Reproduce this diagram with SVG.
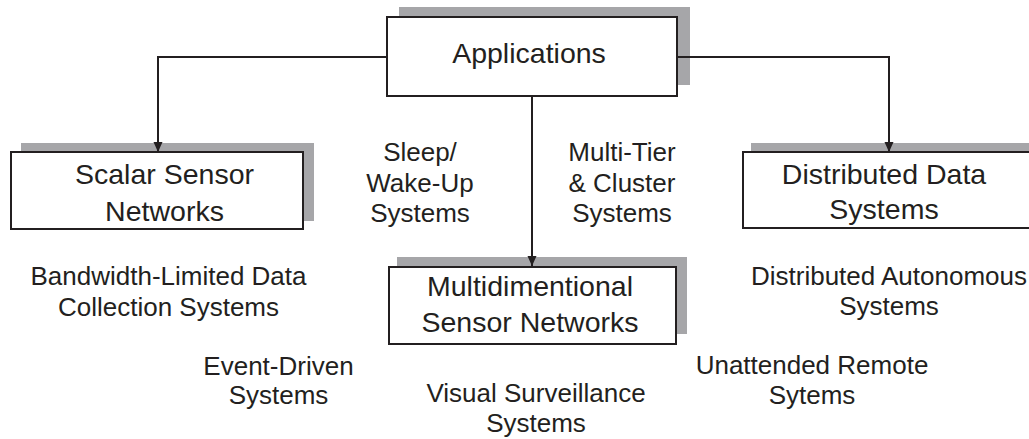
<svg xmlns="http://www.w3.org/2000/svg" width="1029" height="439" viewBox="0 0 1029 439">
  <style>
    .shadow { fill: #a6a6a9; }
    .box { fill: #ffffff; stroke: #231f20; stroke-width: 2; }
    .title { font-family: "Liberation Sans", Arial, sans-serif; font-size: 28.5px; fill: #231f20; text-anchor: middle; }
    .label { font-family: "Liberation Sans", Arial, sans-serif; font-size: 26px; fill: #231f20; text-anchor: middle; }
    .wire { fill: none; stroke: #231f20; stroke-width: 2; }
  </style>
  <defs>
    <marker id="arrow" viewBox="0 0 10 10" refX="10" refY="5" markerWidth="10" markerHeight="10" markerUnits="userSpaceOnUse" orient="auto">
      <path d="M0,0.5 L10,5 L0,9.5 Z" fill="#231f20"/>
    </marker>
  </defs>

  <rect width="1029" height="439" fill="#ffffff"/>

  <!-- root node -->
  <g id="applications">
    <rect class="shadow" x="399" y="7" width="291" height="78"/>
    <rect class="box" x="387" y="17" width="290" height="79"/>
    <text class="title" x="529" y="63">Applications</text>
  </g>

  <g id="scalar-sensor-networks">
    <rect class="shadow" x="21" y="143" width="293" height="78"/>
    <rect class="box" x="11" y="152" width="292" height="77"/>
    <text class="title" x="164.5" y="184">Scalar Sensor</text>
    <text class="title" x="164.5" y="220.5">Networks</text>
  </g>

  <g id="distributed-data-systems">
    <rect class="shadow" x="751" y="143" width="300" height="78"/>
    <rect class="box" x="743" y="152" width="300" height="76"/>
    <text class="title" x="884" y="183.5">Distributed Data</text>
    <text class="title" x="884" y="219">Systems</text>
  </g>

  <g id="multidimentional-sensor-networks">
    <rect class="shadow" x="397" y="257" width="290" height="77"/>
    <rect class="box" x="389" y="267" width="287" height="77"/>
    <text class="title" x="530" y="296">Multidimentional</text>
    <text class="title" x="530" y="331.5">Sensor Networks</text>
  </g>

  <!-- free-standing labels -->
  <g id="sleep-wakeup">
    <text class="label" x="420" y="161">Sleep/</text>
    <text class="label" x="420" y="191.5">Wake-Up</text>
    <text class="label" x="420" y="222">Systems</text>
  </g>
  <g id="multi-tier">
    <text class="label" x="622" y="161">Multi-Tier</text>
    <text class="label" x="622" y="191.5">&amp; Cluster</text>
    <text class="label" x="622" y="222">Systems</text>
  </g>
  <g id="bandwidth-limited">
    <text class="label" x="168.5" y="285">Bandwidth-Limited Data</text>
    <text class="label" x="168.5" y="316">Collection Systems</text>
  </g>
  <g id="event-driven">
    <text class="label" x="278.5" y="374.5">Event-Driven</text>
    <text class="label" x="278.5" y="404">Systems</text>
  </g>
  <g id="visual-surveillance">
    <text class="label" x="536" y="401.5">Visual Surveillance</text>
    <text class="label" x="536" y="431.5">Systems</text>
  </g>
  <g id="distributed-autonomous">
    <text class="label" x="889" y="285">Distributed Autonomous</text>
    <text class="label" x="889" y="315">Systems</text>
  </g>
  <g id="unattended-remote">
    <text class="label" x="812" y="373.5">Unattended Remote</text>
    <text class="label" x="812" y="403.5">Sytems</text>
  </g>

  <!-- connectors, drawn last so they sit above the drop shadows -->
  <g id="connectors">
    <path class="wire" d="M387,57 H158 V152" marker-end="url(#arrow)"/>
    <path class="wire" d="M677,57 H889 V152" marker-end="url(#arrow)"/>
    <path class="wire" d="M532,96 V266" marker-end="url(#arrow)"/>
  </g>
</svg>
